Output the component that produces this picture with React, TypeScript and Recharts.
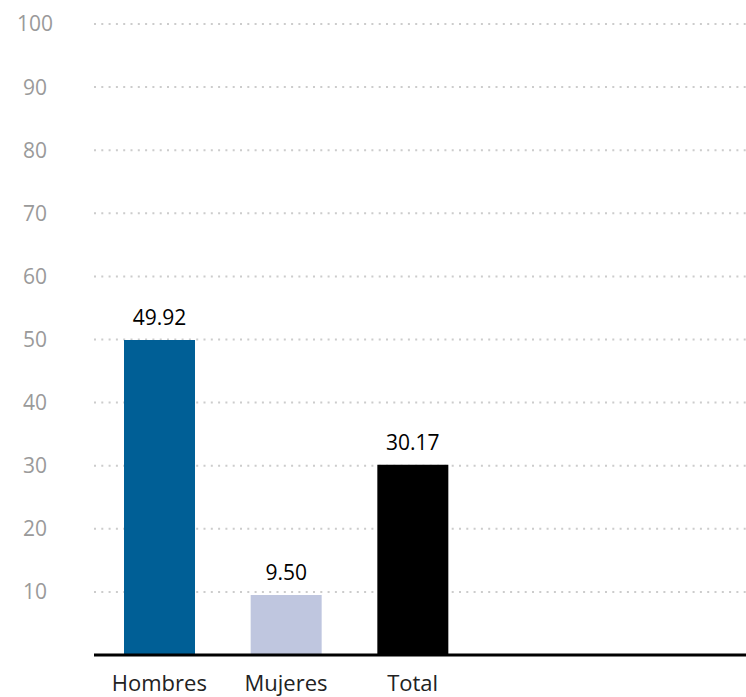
import React from 'react';
import { BarChart, Bar, XAxis, YAxis, CartesianGrid, Cell, LabelList } from 'recharts';

const categories = ['Hombres', 'Mujeres', 'Total'];
const values = [49.92, 9.5, 30.17];
const barColors = ['#005f96', '#bfc6df', '#000000'];
const yTicks = [10, 20, 30, 40, 50, 60, 70, 80, 90, 100];

const data = categories.map((name, i) => ({ name, value: values[i] }));

const FONT = '"Open Sans", "Noto Sans", sans-serif';

// y labels are centred in the left gutter, not right-aligned
const YTick = (props: any) => {
  const { y, payload } = props;
  return (
    <text x={35} y={y} dy="0.355em" textAnchor="middle" fill="#9a9a9a" fontSize={21} fontFamily={FONT}>
      {payload.value}
    </text>
  );
};

const App: React.FC = () => {
  return (
    <div style={{ position: 'fixed', top: 0, left: 0, width: 746, height: 697, background: '#fff' }}>
      <BarChart
        width={746}
        height={697}
        data={data}
        margin={{ top: 24, right: 0, bottom: 0, left: 0 }}
        style={{ fontFamily: FONT }}
      >
        <CartesianGrid
          vertical={false}
          stroke="#cccccc"
          strokeWidth={2}
          strokeDasharray="2 5.3"
        />
        <XAxis
          dataKey="name"
          height={42}
          padding={{ left: 2, right: 270 }}
          tickLine={false}
          tickMargin={14}
          axisLine={{ stroke: '#000', strokeWidth: 3 }}
          tick={{ fill: '#222', fontSize: 22 }}
          interval={0}
        />
        <YAxis
          width={94}
          domain={[0, 100]}
          ticks={yTicks}
          axisLine={false}
          tickLine={false}
          tick={<YTick />}
        />
        <Bar dataKey="value" barSize={71} isAnimationActive={false}>
          {data.map((d, i) => (
            <Cell key={d.name} fill={barColors[i]} />
          ))}
          <LabelList
            dataKey="value"
            position="top"
            offset={15}
            fill="#000"
            fontSize={21}
            formatter={(v: number) => v.toFixed(2)}
          />
        </Bar>
      </BarChart>
    </div>
  );
};

export default App;
